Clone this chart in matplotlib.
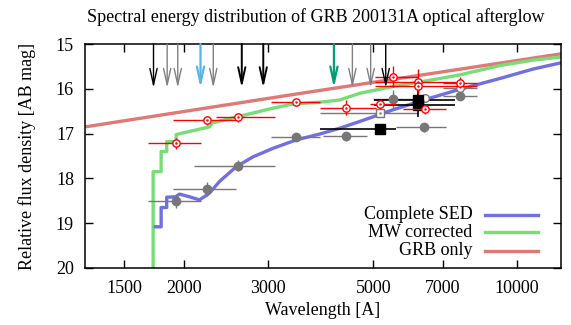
import matplotlib.pyplot as plt
from matplotlib.ticker import NullLocator

plt.rcParams['font.family'] = ['Liberation Serif', 'DejaVu Serif']
plt.rcParams['font.size'] = 13

# model curves: wavelength [A], AB mag
sed_wl = [1743, 1792, 1792, 1841, 1841, 1927, 1958, 2055, 2158, 2264, 2376, 2577,
          2793, 3076, 3446, 3858, 4250, 4682, 5495, 6478, 7600, 9225, 10822, 12395]
sed_mag = [19.08, 19.08, 18.65, 18.65, 18.42, 18.41, 18.35, 18.41, 18.48, 18.33, 18.07, 17.74,
           17.52, 17.33, 17.14, 17.01, 16.88, 16.73, 16.47, 16.23, 16.01, 15.77, 15.56, 15.42]

mw_wl = [1724, 1724, 1792, 1792, 1841, 1841, 1927, 1927, 2264, 2298, 3028, 3385,
         3858, 4250, 4682, 5495, 6478, 7600, 9225, 10822, 12395]
mw_mag = [20.5, 17.85, 17.85, 17.40, 17.40, 17.18, 17.18, 17.02, 16.85, 16.76, 16.45, 16.34,
          16.30, 16.25, 16.10, 15.95, 15.82, 15.69, 15.48, 15.36, 15.29]

grb_wl = [1240, 3478, 12400]
grb_mag = [16.85, 16.11, 15.22]

# corrected photometry (red open circles)
red_wl = [1927, 2239, 2597, 3446, 4389, 5176, 5503, 6210, 6210, 7600, 6415]
red_lo = [1680, 1895, 2339, 3053, 3858, 4914, 5035, 5035, 5035, 6999, 5767]
red_hi = [2175, 2577, 3102, 3858, 5077, 5594, 6210, 7600, 8253, 8253, 7125]
red_mag = [17.22, 16.70, 16.64, 16.30, 16.42, 16.35, 15.73, 15.84, 15.94, 15.86, 16.46]
red_err = [0.12, 0.10, 0.10, 0.06, 0.17, 0.10, 0.23, 0.28, 0.15, 0.12, 0.10]

# observed photometry (grey filled circles)
gray_wl = [1927, 2239, 2597, 3446, 4389, 5503, 7600, 6394]
gray_lo = [1680, 1895, 2105, 3053, 3914, 4986, 6999, 5594]
gray_hi = [2175, 2577, 3102, 3858, 4842, 6170, 8253, 7125]
gray_mag = [18.50, 18.24, 17.72, 17.08, 17.06, 16.23, 16.16, 16.86]
gray_err = [0.15, 0.15, 0.12, 0.06, 0.10, 0.20, 0.10, 0.10]

# black squares
blk_wl = [5176, 6210, 6210]
blk_lo = [3858, 5010, 5010]
blk_hi = [5594, 7419, 7419]
blk_mag = [16.90, 16.24, 16.36]
blk_err = [0.0, 0.26, 0.26]

# open grey markers
osq_wl, osq_lo, osq_hi, osq_mag = [5176], [3858], [6210], [16.53]
oc_wl, oc_lo, oc_hi, oc_mag = [7600, 6415], [6999, 6415], [8253, 6415], [15.99, 16.21]

# line markers at the top
arrow_wl = [1727, 1845, 1942, 2168, 2306, 2647, 2937, 4134, 4520, 4938, 5311]
arrow_col = ['black', 'grey', 'grey', '#56b4e9', 'grey', 'black', 'black',
             '#009e73', 'grey', 'grey', 'black']
arrow_lw = [1.0, 1.0, 1.0, 1.6, 1.0, 1.4, 1.4, 1.6, 1.0, 1.0, 1.0]

c_sed = '#7070e0'
c_mw = '#77dd77'
c_grb = '#e07878'


def xe(wl, lo, hi):
    return [[w - l for w, l in zip(wl, lo)], [h - w for w, h in zip(wl, hi)]]


fig = plt.figure(figsize=(5.71, 3.25), dpi=100)
ax = fig.add_axes([0.1489, 0.1754, 0.8336, 0.6892])

ax.plot(grb_wl, grb_mag, color=c_grb, lw=2.4, zorder=2)
ax.plot(mw_wl, mw_mag, color=c_mw, lw=2.4, zorder=2)
ax.plot(sed_wl, sed_mag, color=c_sed, lw=2.4, zorder=2)

ax.errorbar(gray_wl, gray_mag, xerr=xe(gray_wl, gray_lo, gray_hi), yerr=gray_err,
            fmt='o', color='#777777', ms=6, elinewidth=1, capsize=0, zorder=3)
ax.errorbar(osq_wl, osq_mag, xerr=xe(osq_wl, osq_lo, osq_hi),
            fmt='s', color='#777777', mfc='white', ms=5.5, elinewidth=1, capsize=0, zorder=3)
ax.plot(osq_wl, osq_mag, '.', color='#777777', ms=1.5, zorder=4)
ax.errorbar(oc_wl, oc_mag, xerr=xe(oc_wl, oc_lo, oc_hi),
            fmt='o', color='#777777', mfc='white', ms=5.5, elinewidth=1, capsize=0, zorder=3)
ax.errorbar(blk_wl, blk_mag, xerr=xe(blk_wl, blk_lo, blk_hi), yerr=blk_err,
            fmt='s', color='black', ms=6.5, elinewidth=1.2, capsize=0, zorder=3)
ax.errorbar(red_wl, red_mag, xerr=xe(red_wl, red_lo, red_hi), yerr=red_err,
            fmt='o', color='red', mfc='white', ms=5.3, mew=1, elinewidth=1, capsize=0, zorder=4)
ax.plot(red_wl, red_mag, '.', color='red', ms=1.5, zorder=5)

for w, c, lw in zip(arrow_wl, arrow_col, arrow_lw):
    ax.annotate('', xy=(w, 15.98), xytext=(w, 15.0),
                arrowprops=dict(arrowstyle='->,head_length=0.9,head_width=0.2',
                                color=c, lw=lw, shrinkA=0, shrinkB=0), zorder=6)

ax.set_xscale('log')
ax.set_xlim(1240, 12400)
ax.set_ylim(20, 15)
ax.set_xticks([1500, 2000, 3000, 5000, 7000, 10000])
ax.set_xticklabels(['1500', '2000', '3000', '5000', '7000', '10000'])
ax.xaxis.set_minor_locator(NullLocator())
ax.set_yticks([15, 16, 17, 18, 19, 20])
ax.tick_params(direction='in', top=True, right=True, length=6, width=1)
ax.tick_params(axis='x', pad=9)
ax.tick_params(axis='y', pad=8)
for s in ax.spines.values():
    s.set_linewidth(1.1)

ax.set_xlabel('Wavelength [A]', labelpad=3)
ax.set_ylabel('Relative flux density [AB mag]', labelpad=14)
fig.text(316 / 571, 1 - 17 / 325, 'Spectral energy distribution of GRB 200131A optical afterglow',
         ha='center', va='center')

# legend drawn gnuplot style: right-aligned text, sample on the right
labels = ['Complete SED', 'MW corrected', 'GRB only']
colors = [c_sed, c_mw, c_grb]
ys = [0.2366, 0.159, 0.0759]
for lab, c, y in zip(labels, colors, ys):
    ax.text(0.8145, y, lab, transform=ax.transAxes, ha='right', va='center')
    ax.plot([0.840, 0.952], [y, y], transform=ax.transAxes, color=c, lw=2.4)

fig.savefig('out.png', dpi=100)
